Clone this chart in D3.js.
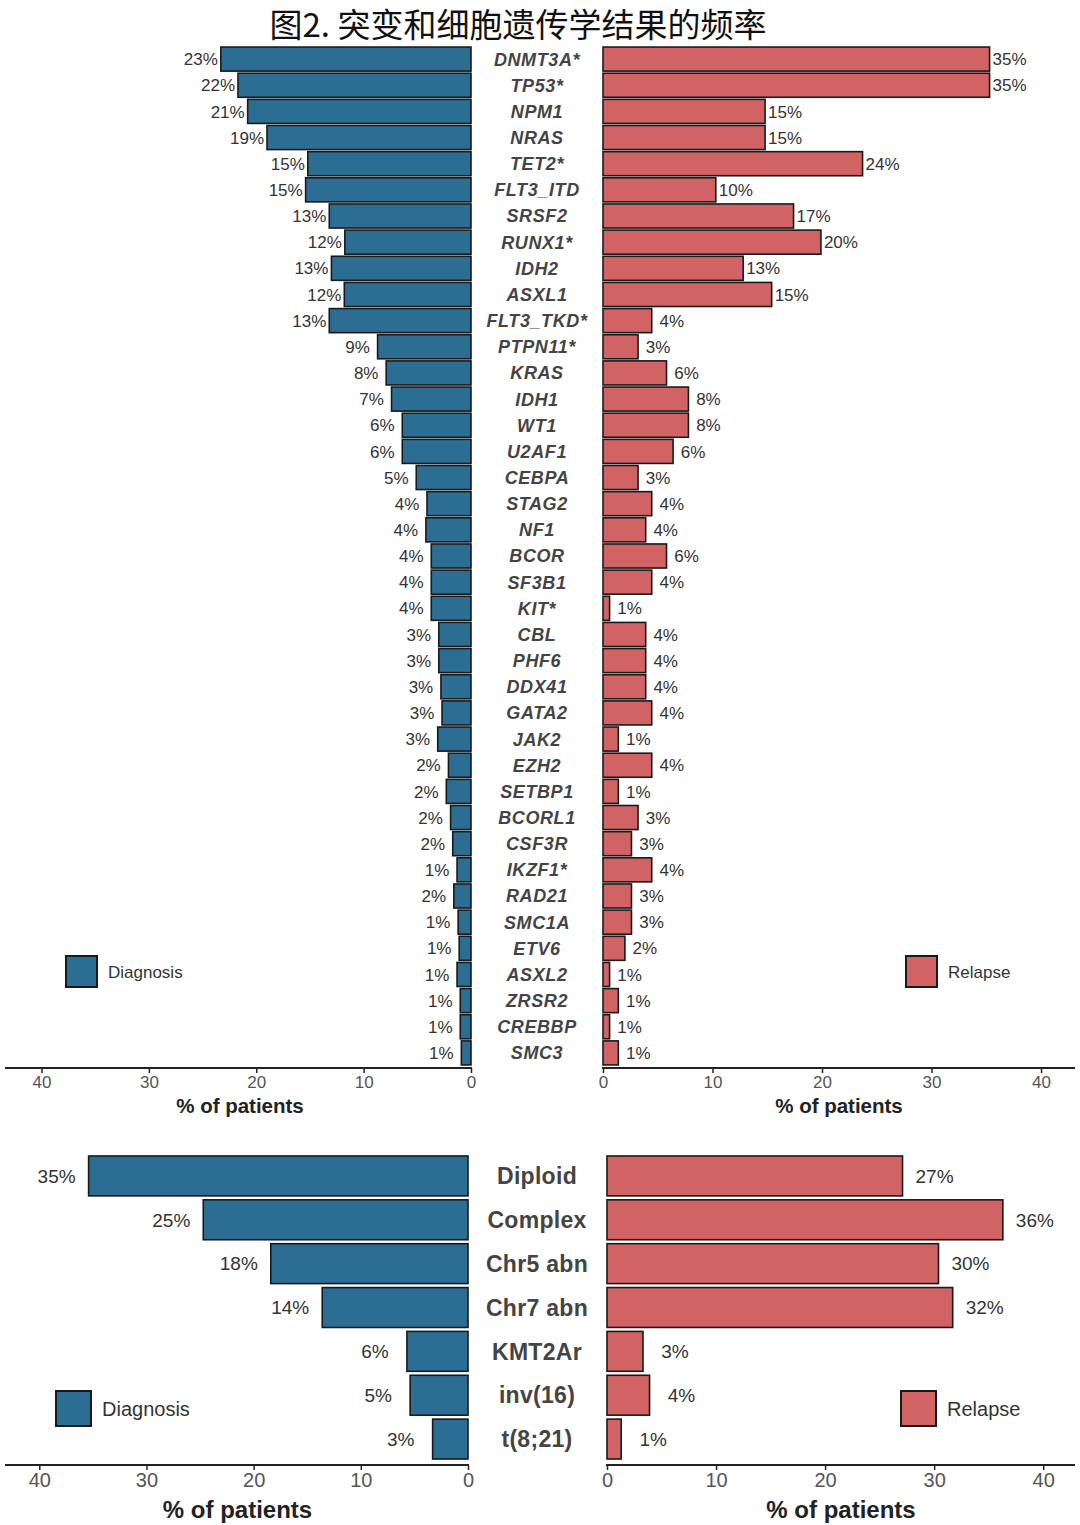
<!DOCTYPE html>
<html><head><meta charset="utf-8">
<script src="https://cdn.jsdelivr.net/npm/d3@7"></script>
<style>body{margin:0;background:#fff}svg{display:block}</style>
</head><body>
<svg id="c" width="1080" height="1525"></svg>
<script>
const genes = ["DNMT3A*","TP53*","NPM1","NRAS","TET2*","FLT3_ITD","SRSF2","RUNX1*","IDH2","ASXL1","FLT3_TKD*","PTPN11*","KRAS","IDH1","WT1","U2AF1","CEBPA","STAG2","NF1","BCOR","SF3B1","KIT*","CBL","PHF6","DDX41","GATA2","JAK2","EZH2","SETBP1","BCORL1","CSF3R","IKZF1*","RAD21","SMC1A","ETV6","ASXL2","ZRSR2","CREBBP","SMC3"];
const geneDiagnosis = [23.3,21.7,20.8,19.0,15.2,15.4,13.2,11.75,13.0,11.8,13.2,8.7,7.9,7.4,6.4,6.4,5.1,4.1,4.2,3.7,3.7,3.7,3.0,3.0,2.8,2.7,3.1,2.1,2.3,1.9,1.7,1.3,1.6,1.2,1.1,1.3,1.0,1.0,0.9];
const geneRelapse = [35.3,35.3,14.8,14.8,23.7,10.3,17.4,19.9,12.8,15.4,4.45,3.2,5.8,7.8,7.8,6.4,3.2,4.45,3.9,5.8,4.45,0.6,3.9,3.9,3.9,4.45,1.4,4.45,1.4,3.2,2.6,4.45,2.6,2.6,2.0,0.6,1.4,0.6,1.4];
const cytoCats = ["Diploid","Complex","Chr5 abn","Chr7 abn","KMT2Ar","inv(16)","t(8;21)"];
const cytoDiagnosis = [35.4,24.7,18.4,13.6,5.7,5.4,3.3];
const cytoRelapse = [27.1,36.3,30.4,31.7,3.3,3.9,1.3];
const tickVals = [0,10,20,30,40];
const seriesNames = ["Diagnosis","Relapse"];
const titleText = "图2. 突变和细胞遗传学结果的频率";
const axisTitle = "% of patients";

const BLUE = "#2c6e93", RED = "#d16365", EDGE = "#1a1a1a";
const svg = d3.select("#c");
const fmt = v => Math.round(v) + "%";

svg.append("text").attr("x", 518).attr("y", 37).attr("text-anchor","middle")
  .attr("font-family","'Noto Sans CJK SC'").attr("font-size",33).attr("fill","#111")
  .text(titleText);

function panel(o){
  const y = d3.scaleBand().domain(o.cats).range(o.yRange).paddingInner(o.pad).paddingOuter(o.pad/2);
  const xl = d3.scaleLinear().domain([0,o.lMax]).range([o.l0,o.lEnd]);
  const xr = d3.scaleLinear().domain([0,o.rMax]).range([o.r0,o.rEnd]);
  const g = svg.append("g");
  g.selectAll(".lb").data(o.cats).join("rect")
    .attr("x",(d,i)=>xl(o.left[i])).attr("width",(d,i)=>xl(0)-xl(o.left[i]))
    .attr("y",d=>y(d)).attr("height",y.bandwidth())
    .attr("fill",BLUE).attr("stroke",EDGE).attr("stroke-width",1.6);
  g.selectAll(".rb").data(o.cats).join("rect")
    .attr("x",xr(0)).attr("width",(d,i)=>xr(o.right[i])-xr(0))
    .attr("y",d=>y(d)).attr("height",y.bandwidth())
    .attr("fill",RED).attr("stroke",EDGE).attr("stroke-width",1.6);
  g.selectAll(".lt").data(o.cats).join("text")
    .attr("x",(d,i)=>xl(o.left[i]) - o.off).attr("y",d=>y(d)+y.bandwidth()/2)
    .attr("dy","0.36em").attr("text-anchor","middle")
    .attr("font-family","'Liberation Sans', Arial").attr("font-size",o.valFs).attr("fill","#333")
    .text((d,i)=>fmt(o.left[i]));
  g.selectAll(".rt").data(o.cats).join("text")
    .attr("x",(d,i)=>xr(o.right[i]) + o.off).attr("y",d=>y(d)+y.bandwidth()/2)
    .attr("dy","0.36em").attr("text-anchor","middle")
    .attr("font-family","'Liberation Sans', Arial").attr("font-size",o.valFs).attr("fill","#333")
    .text((d,i)=>fmt(o.right[i]));
  g.selectAll(".cl").data(o.cats).join("text")
    .attr("x",o.cx).attr("y",d=>y(d)+y.bandwidth()/2).attr("dy","0.36em")
    .attr("text-anchor","middle").attr("font-family","'Liberation Sans', Arial")
    .attr("font-weight","bold").attr("font-style",o.italic?"italic":"normal")
    .attr("letter-spacing",o.ls)
    .attr("font-size",o.catFs).attr("fill","#444").text(d=>d);
  const mk = (sc, x1, x2) => {
    const a = g.append("g").attr("transform",`translate(0,${o.axisY})`)
      .call(d3.axisBottom(sc).tickValues(tickVals).tickSize(5).tickSizeOuter(0).tickPadding(o.tickPad));
    a.select(".domain").remove();
    a.append("line").attr("x1",x1).attr("x2",x2).attr("stroke","#222").attr("stroke-width",2);
    a.selectAll(".tick line").attr("stroke","#222").attr("stroke-width",1.5);
    a.selectAll(".tick text").attr("font-family","'Liberation Sans', Arial")
      .attr("font-size",o.tickFs).attr("fill","#555");
  };
  mk(xl, o.lAxis0, o.l0+1);
  mk(xr, o.r0-1, o.rAxis1);
  [(o.l0+o.lAxis0)/2 + o.ltShift, (o.r0+o.rAxis1)/2 + o.rtShift].forEach(x=>{
    g.append("text").attr("x",x).attr("y",o.titleY).attr("text-anchor","middle")
      .attr("font-family","'Liberation Sans', Arial").attr("font-weight","bold")
      .attr("font-size",o.titleFs).attr("fill","#222").text(axisTitle);
  });
  o.legends.forEach((L,i)=>{
    g.append("rect").attr("x",L.x).attr("y",L.y).attr("width",o.legSz).attr("height",o.legSz)
      .attr("fill",i===0?BLUE:RED).attr("stroke",EDGE).attr("stroke-width",2);
    g.append("text").attr("x",L.x+o.legSz+11).attr("y",L.y+o.legSz/2).attr("dy","0.36em")
      .attr("font-family","'Liberation Sans', Arial").attr("font-size",o.legFs).attr("fill","#333")
      .text(seriesNames[i]);
  });
}

panel({cats:genes,left:geneDiagnosis,right:geneRelapse,yRange:[46,1066],pad:0.08,
  lMax:43.4,l0:471,lEnd:5,rMax:43.1,r0:603,rEnd:1075,off:20,valFs:17,catFs:18,ls:0.6,italic:true,cx:537,
  axisY:1068,tickFs:17,tickPad:3,lAxis0:5,rAxis1:1075,titleY:1113,titleFs:20.5,ltShift:2,rtShift:0,
  legSz:31,legFs:17,legends:[{x:66,y:956},{x:906,y:956}]});

panel({cats:cytoCats,left:cytoDiagnosis,right:cytoRelapse,yRange:[1154,1461],pad:0.09,
  lMax:43.2,l0:468,lEnd:5,rMax:43.1,r0:607,rEnd:1077,off:32,valFs:19,catFs:23,ls:0.3,italic:false,cx:537,
  axisY:1465,tickFs:20,tickPad:3,lAxis0:5,rAxis1:1075,titleY:1518,titleFs:24,ltShift:1,rtShift:0,
  legSz:35,legFs:20,legends:[{x:56,y:1391},{x:901,y:1391}]});
</script>
</body></html>
